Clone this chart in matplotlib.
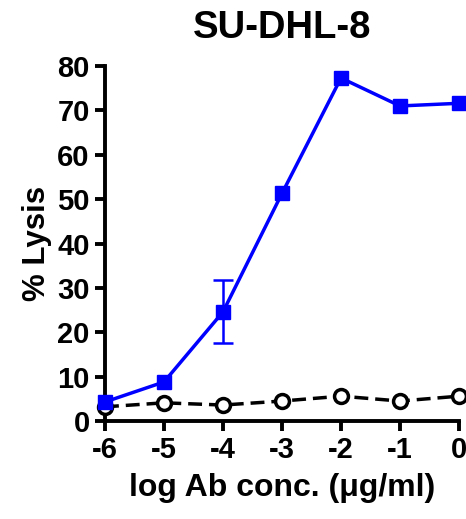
import matplotlib
matplotlib.use('Agg')
import matplotlib.pyplot as plt

plt.rcParams['font.family'] = ['Liberation Sans', 'DejaVu Sans']
plt.rcParams['font.weight'] = 'bold'
plt.rcParams['axes.unicode_minus'] = False

log_conc = [-6, -5, -4, -3, -2, -1, 0]
lysis_ab = [4.3, 8.8, 24.6, 51.3, 77.3, 71.0, 71.6]
lysis_err = [0, 0, 7.1, 0, 0, 0, 0]
lysis_ctrl = [3.2, 4.1, 3.6, 4.5, 5.6, 4.5, 5.6]

fig = plt.figure(figsize=(4.66, 5.19), dpi=100)
ax = fig.add_axes([0.2253, 0.1888, 0.7597, 0.684])

ax.plot(log_conc, lysis_ctrl, color='black', lw=2.5, ls=(0, (4, 2)),
        marker='o', ms=10, mfc='white', mec='black', mew=2.5, clip_on=False, zorder=3)
ax.plot(log_conc, lysis_ab, color='#0000ff', lw=2.5, marker='s', ms=10,
        clip_on=False, zorder=4)
# error bars only where there is spread
ex = [x for x, e in zip(log_conc, lysis_err) if e > 0]
ey = [y for y, e in zip(lysis_ab, lysis_err) if e > 0]
ee = [e for e in lysis_err if e > 0]
ax.errorbar(ex, ey, yerr=ee, fmt='none', ecolor='#0000ff', elinewidth=1.8,
            capsize=7, capthick=1.8, zorder=4)

ax.set_xlim(-6, 0)
ax.set_ylim(0, 80)
ax.set_xticks(log_conc)
ax.set_yticks(range(0, 81, 10))
for s in ['top', 'right']:
    ax.spines[s].set_visible(False)
for s in ['left', 'bottom']:
    ax.spines[s].set_linewidth(2.8)
ax.tick_params(width=2.8, length=7, labelsize=21, pad=4)

ax.set_title('SU-DHL-8', fontsize=27.5, fontweight='bold', pad=20)
ax.set_xlabel('log Ab conc. (μg/ml)', fontsize=23, fontweight='bold', labelpad=6)
ax.set_ylabel('% Lysis', fontsize=22.5, fontweight='bold', labelpad=4)

fig.savefig('out.png', dpi=100)
